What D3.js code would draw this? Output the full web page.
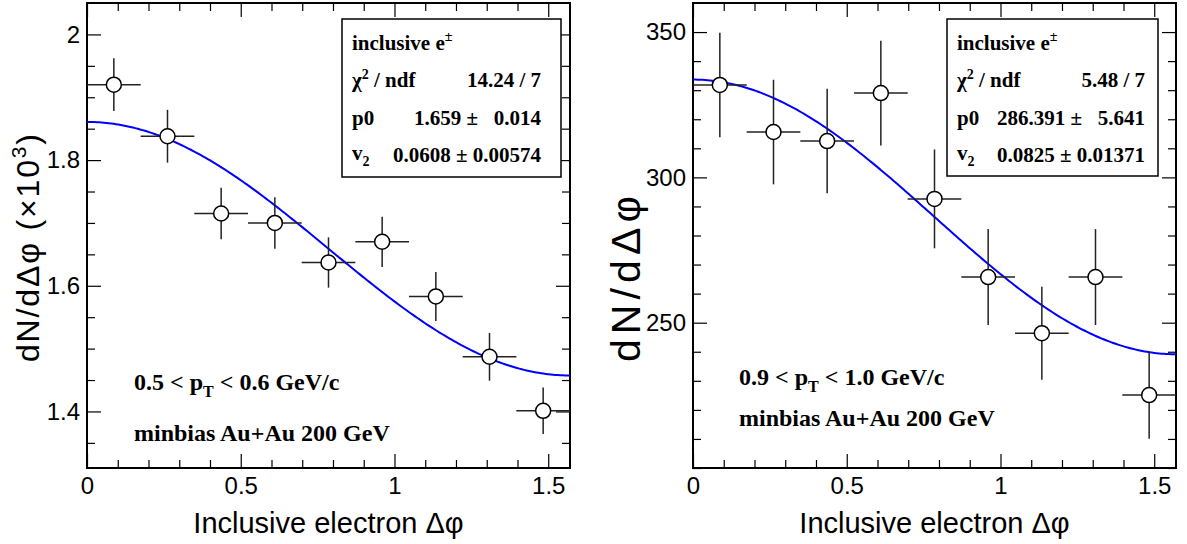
<!DOCTYPE html>
<html>
<head>
<meta charset="utf-8">
<script src="https://cdn.jsdelivr.net/npm/d3@7"></script>
<style>
  body { margin: 0; background: #fff; }
  svg { display: block; }
  .tick text { font-family: "Liberation Sans", Arial, sans-serif; fill: #000; }
  .lbl { font-family: "Liberation Serif", "Times New Roman", serif; font-weight: bold; fill: #000; white-space: pre; }
  .ttl { font-family: "Liberation Sans", Arial, sans-serif; fill: #000; }
</style>
</head>
<body>
<div id="chart"></div>
<script>
// bin centres in delta phi (9 bins over 0..pi/2)
const binCenters = [0.0873, 0.2618, 0.4363, 0.6109, 0.7854, 0.9599, 1.1345, 1.3090, 1.4835];
const binHalfWidth = 0.0873;

// left panel: 0.5 < pT < 0.6 GeV/c  (x10^3)
const leftCounts = [1.920, 1.838, 1.715, 1.700, 1.637, 1.670, 1.583, 1.487, 1.401];
const leftErrors = [0.042, 0.042, 0.041, 0.041, 0.040, 0.040, 0.039, 0.038, 0.037];
const leftFit = [1.659, 0.0608];   // p0, v2
const leftYTicks = [1.4, 1.6, 1.8, 2];

// right panel: 0.9 < pT < 1.0 GeV/c
const rightCounts = [331.8, 315.6, 312.5, 329.0, 292.6, 265.7, 246.4, 265.7, 225.1];
const rightErrors = [18, 18, 18, 18, 17, 16.5, 16, 16.5, 15];
const rightFit = [286.391, 0.0825];
const rightYTicks = [250, 300, 350];

const xTicks = [0, 0.5, 1, 1.5];

const W = 1187, H = 544;
const svg = d3.select("#chart").append("svg").attr("width", W).attr("height", H);
svg.append("rect").attr("width", W).attr("height", H).attr("fill", "#fff");

const panels = [
  {
    x0: 87, x1: 570, yDom: [1.31, 2.05], minorStep: 0.05,
    counts: leftCounts, errors: leftErrors, fit: leftFit, yTicks: leftYTicks,
    yTitle: ["dN/dΔφ (×10", "3", ")"], yTitleX: 39, yTitleLen: 228, yTitleSize: 32,
    stats: { x0: 342, x1: 561, y0: 19, y1: 177, lx: 352, rx: 541,
             chi: "14.24 / 7", p0: "1.659 ±   0.014", v2: "0.0608 ± 0.00574" },
    note: { x: 134, y1: 390, y2: 441, lo: "0.5", hi: "0.6" }
  },
  {
    x0: 693, x1: 1176, yDom: [200, 360], minorStep: 10,
    counts: rightCounts, errors: rightErrors, fit: rightFit, yTicks: rightYTicks,
    yTitle: ["dN/dΔφ"], yTitleX: 640, yTitleLen: 166, yTitleSize: 41,
    stats: { x0: 947, x1: 1158, y0: 19, y1: 176, lx: 957, rx: 1145,
             chi: "5.48 / 7", p0: "286.391 ±   5.641", v2: "0.0825 ± 0.01371" },
    note: { x: 739, y1: 385, y2: 426, lo: "0.9", hi: "1.0" }
  }
];

const yTop = 3, yBottom = 468;

panels.forEach(p => {
  const g = svg.append("g");
  const x = d3.scaleLinear().domain([0, Math.PI / 2]).range([p.x0, p.x1]);
  const y = d3.scaleLinear().domain(p.yDom).range([yBottom, yTop]);

  const xMinor = d3.range(0, 1.6, 0.1).filter(v => xTicks.every(t => Math.abs(t - v) > 1e-6));
  const yMinor = d3.range(Math.ceil(p.yDom[0] / p.minorStep) * p.minorStep, p.yDom[1], p.minorStep)
    .filter(v => p.yTicks.every(t => Math.abs(t - v) > 1e-6));

  // axes: ticks pointing inward on all four sides
  const addAxis = (axis, tr, labels) => {
    const a = g.append("g").attr("transform", tr).call(axis);
    a.select(".domain").remove();
    a.selectAll(".tick line").attr("stroke", "#000").attr("stroke-width", 1.2);
    if (!labels) a.selectAll(".tick text").remove();
    return a;
  };
  const bx = addAxis(d3.axisBottom(x).tickValues(xTicks).tickSize(-14).tickPadding(9).tickFormat(d3.format("")), `translate(0,${yBottom})`, true);
  bx.selectAll(".tick text").attr("font-size", 24);
  addAxis(d3.axisBottom(x).tickValues(xMinor).tickSize(-8), `translate(0,${yBottom})`, false);
  addAxis(d3.axisTop(x).tickValues(xTicks).tickSize(-14), `translate(0,${yTop})`, false);
  addAxis(d3.axisTop(x).tickValues(xMinor).tickSize(-8), `translate(0,${yTop})`, false);

  const ly = addAxis(d3.axisLeft(y).tickValues(p.yTicks).tickSize(-14).tickPadding(7).tickFormat(d3.format("")), `translate(${p.x0},0)`, true);
  ly.selectAll(".tick text").attr("font-size", 24);
  addAxis(d3.axisLeft(y).tickValues(yMinor).tickSize(-8), `translate(${p.x0},0)`, false);
  addAxis(d3.axisRight(y).tickValues(p.yTicks).tickSize(-14), `translate(${p.x1},0)`, false);
  addAxis(d3.axisRight(y).tickValues(yMinor).tickSize(-8), `translate(${p.x1},0)`, false);

  g.append("rect")
    .attr("x", p.x0).attr("y", yTop)
    .attr("width", p.x1 - p.x0).attr("height", yBottom - yTop)
    .attr("fill", "none").attr("stroke", "#000").attr("stroke-width", 2);

  // fit function p0*(1 + 2 v2 cos(2 dphi))
  const fx = d3.range(0, 201).map(i => i / 200 * Math.PI / 2);
  const line = d3.line().x(d => x(d)).y(d => y(p.fit[0] * (1 + 2 * p.fit[1] * Math.cos(2 * d))));
  g.append("path").datum(fx).attr("d", line)
    .attr("fill", "none").attr("stroke", "#0000ff").attr("stroke-width", 2);

  // data points with error bars
  const pts = binCenters.map((c, i) => ({ c, v: p.counts[i], e: p.errors[i] }));
  const r = 7.5;
  const pg = g.selectAll(".pt").data(pts).enter().append("g").attr("class", "pt");
  pg.append("line")
    .attr("x1", d => x(d.c - binHalfWidth)).attr("x2", d => x(d.c + binHalfWidth))
    .attr("y1", d => y(d.v)).attr("y2", d => y(d.v));
  pg.append("line")
    .attr("x1", d => x(d.c)).attr("x2", d => x(d.c))
    .attr("y1", d => y(d.v + d.e)).attr("y2", d => y(d.v - d.e));
  pg.selectAll("line").attr("stroke", "#222").attr("stroke-width", 1.5);
  pg.append("circle")
    .attr("cx", d => x(d.c)).attr("cy", d => y(d.v)).attr("r", r)
    .attr("fill", "#fff").attr("stroke", "#000").attr("stroke-width", 1.5);

  // axis titles
  svg.append("text").attr("class", "ttl")
    .attr("x", (p.x0 + p.x1) / 2).attr("y", 533)
    .attr("text-anchor", "middle").attr("font-size", 29)
    .text("Inclusive electron Δφ");
  const yt = svg.append("text").attr("class", "ttl")
    .attr("transform", `translate(${p.yTitleX},362) rotate(-90)`)
    .attr("text-anchor", "start").attr("font-size", p.yTitleSize)
    .attr("textLength", p.yTitleLen).attr("lengthAdjust", "spacing");
  yt.append("tspan").text(p.yTitle[0]);
  if (p.yTitle.length > 1) {
    yt.append("tspan").attr("font-size", 21).attr("dy", -13).text(p.yTitle[1]);
    yt.append("tspan").attr("dy", 13).text(p.yTitle[2]);
  }

  // stats box
  const s = p.stats;
  svg.append("rect")
    .attr("x", s.x0).attr("y", s.y0).attr("width", s.x1 - s.x0).attr("height", s.y1 - s.y0)
    .attr("fill", "#fff").attr("stroke", "#000").attr("stroke-width", 1.5);
  const fs = 21;
  const t1 = svg.append("text").attr("class", "lbl").attr("x", s.lx).attr("y", 50).attr("font-size", fs);
  t1.append("tspan").text("inclusive e");
  t1.append("tspan").attr("font-size", 14).attr("dy", -9).text("±");
  const t2 = svg.append("text").attr("class", "lbl").attr("x", s.lx).attr("y", 87).attr("font-size", fs);
  t2.append("tspan").text("χ");
  t2.append("tspan").attr("font-size", 14).attr("dy", -8).text("2");
  t2.append("tspan").attr("dy", 8).text(" / ndf");
  svg.append("text").attr("class", "lbl").attr("x", s.lx).attr("y", 125).attr("font-size", fs).text("p0");
  const t4 = svg.append("text").attr("class", "lbl").attr("x", s.lx).attr("y", 162).attr("font-size", fs);
  t4.append("tspan").attr("dy", -2).text("v");
  t4.append("tspan").attr("font-size", 14).attr("dy", 6).text("2");
  [[87, s.chi], [125, s.p0], [162, s.v2]].forEach(([yy, txt]) => {
    svg.append("text").attr("class", "lbl").attr("x", s.rx).attr("y", yy)
      .attr("text-anchor", "end").attr("font-size", fs).text(txt);
  });

  // annotations
  const n = p.note;
  const a1 = svg.append("text").attr("class", "lbl").attr("x", n.x).attr("y", n.y1).attr("font-size", 24);
  a1.append("tspan").text(n.lo + " < p");
  a1.append("tspan").attr("font-size", 16).attr("dy", 7).text("T");
  a1.append("tspan").attr("dy", -7).text(" < " + n.hi + " GeV/c");
  svg.append("text").attr("class", "lbl").attr("x", n.x).attr("y", n.y2).attr("font-size", 24)
    .text("minbias Au+Au 200 GeV");
});
</script>
</body>
</html>
